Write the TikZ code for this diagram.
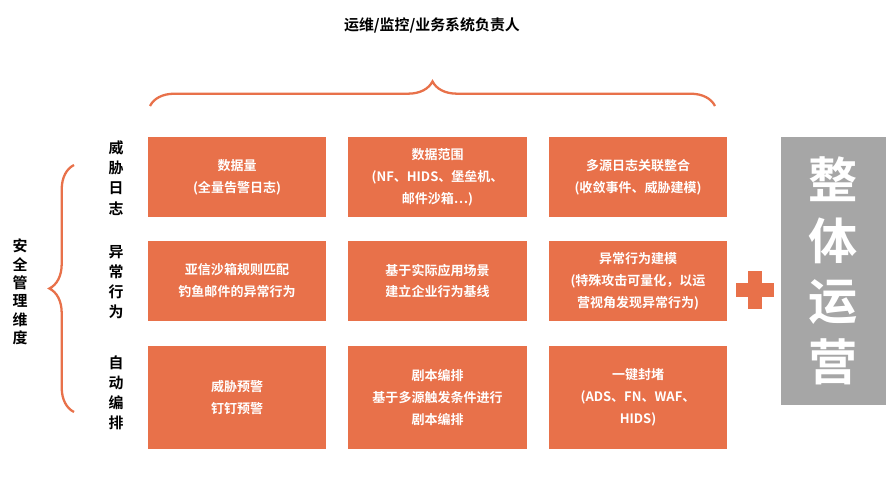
\documentclass[tikz,border=0pt]{standalone}
\usepackage{fontspec}
\newfontfamily\cjk{Noto Sans CJK SC}[BoldFont={Noto Sans CJK SC Bold}]
\usetikzlibrary{decorations.pathreplacing}
\definecolor{org}{HTML}{E8714A}
\definecolor{gry}{HTML}{A6A6A6}
\tikzset{
 cell/.style={fill=org,draw=none,text=white,align=center,font=\cjk\bfseries\fontsize{7.4}{12.5}\selectfont},
 side/.style={align=center,font=\cjk\bfseries\fontsize{8.5}{11.5}\selectfont,text=black},
 br/.style={draw=org,line width=1.3pt,decorate,decoration={brace,amplitude=14pt}}
}
\begin{document}
\begin{tikzpicture}[x=0.02cm,y=-0.02cm]
\useasboundingbox (0,0) rectangle (896,486);
\def\cellA#1#2#3#4#5{\path[cell] (#2,#3) rectangle (#4,#5); \node[cell] (#1) at ({(#2+#4)/2},{(#3+#5)/2})}
\cellA{a1}{148}{137}{326}{217} {数据量\\(全量告警日志)};
\cellA{a2}{348}{137}{527}{217} {数据范围\\(NF、HIDS、堡垒机、\\邮件沙箱…)};
\cellA{a3}{549}{137}{727}{217} {多源日志关联整合\\(收敛事件、威胁建模)};
\cellA{b1}{148}{241}{326}{321} {亚信沙箱规则匹配\\钓鱼邮件的异常行为};
\cellA{b2}{348}{241}{527}{321} {基于实际应用场景\\建立企业行为基线};
\cellA{b3}{549}{241}{727}{321} {异常行为建模\\(特殊攻击可量化，以运\\营视角发现异常行为)};
\cellA{c1}{148}{346}{326}{449} {威胁预警\\钉钉预警};
\cellA{c2}{348}{346}{527}{449} {剧本编排\\基于多源触发条件进行\\剧本编排};
\cellA{c3}{549}{346}{727}{449} {一键封堵\\(ADS、FN、WAF、\\HIDS)};
\fill[gry] (781,137) rectangle (886,405);
\node[text=white,align=center,font=\cjk\bfseries\fontsize{28}{34.5}\selectfont] (g) at (833,271) {整\\体\\运\\营};
\fill[org] (748,271) rectangle (762,309);
\fill[org] (736,283) rectangle (774,297);
\node[font=\cjk\bfseries\fontsize{8.5}{10}\selectfont] (t) at (432,25) {运维/监控/业务系统负责人};
\coordinate (tl) at (150,106); \coordinate (tr) at (715,106);
\draw[br] (tl) -- (tr);
\coordinate (lb) at (74,412); \coordinate (lt) at (74,165);
\draw[br] (lb) -- (lt);
\node[side] (s1) at (116,178) {威\\胁\\日\\志};
\node[side] (s2) at (116,282) {异\\常\\行\\为};
\node[side] (s3) at (116,393) {自\\动\\编\\排};
\node[side,font=\cjk\bfseries\fontsize{8.5}{10.5}\selectfont] (s0) at (20,292) {安\\全\\管\\理\\维\\度};
\end{tikzpicture}
\end{document}
